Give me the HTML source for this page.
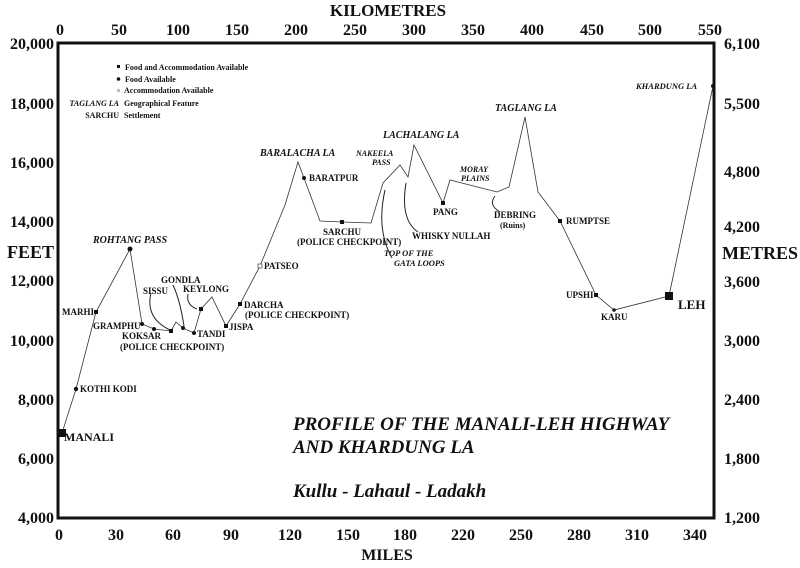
<!DOCTYPE html>
<html><head><meta charset="utf-8"><style>
html,body{margin:0;padding:0;background:#fff;}
svg{display:block;}
text{font-family:"Liberation Serif",serif;font-weight:bold;fill:#111;}
.t{font-size:16px;}
.s{font-size:9px;}
.i{font-style:italic;font-size:10px;}
</style></head><body>
<svg width="800" height="568" viewBox="0 0 800 568" xmlns="http://www.w3.org/2000/svg">
<rect width="800" height="568" fill="#fff"/>
<!-- frame -->
<path d="M58,43 L714,43 L714,518 L58,518 Z" fill="none" stroke="#111" stroke-width="3"/>
<!-- top axis -->
<text x="388" y="16" class="t" text-anchor="middle" style="font-size:17px">KILOMETRES</text>
<g class="t" text-anchor="middle">
<text x="60" y="35">0</text><text x="119" y="35">50</text><text x="178" y="35">100</text><text x="237" y="35">150</text><text x="296" y="35">200</text><text x="355" y="35">250</text><text x="414" y="35">300</text><text x="473" y="35">350</text><text x="532" y="35">400</text><text x="592" y="35">450</text><text x="650" y="35">500</text><text x="710" y="35">550</text>
</g>
<!-- left axis -->
<g class="t" text-anchor="end">
<text x="54" y="49">20,000</text><text x="54" y="109">18,000</text><text x="54" y="168">16,000</text><text x="54" y="227">14,000</text><text x="54" y="286">12,000</text><text x="54" y="346">10,000</text><text x="54" y="405">8,000</text><text x="54" y="464">6,000</text><text x="54" y="523">4,000</text>
<text x="54" y="258" style="font-size:18px">FEET</text>
</g>
<!-- right axis -->
<g class="t">
<text x="724" y="49">6,100</text><text x="724" y="109">5,500</text><text x="724" y="177">4,800</text><text x="724" y="232">4,200</text><text x="724" y="287">3,600</text><text x="724" y="346">3,000</text><text x="724" y="405">2,400</text><text x="724" y="464">1,800</text><text x="724" y="523">1,200</text>
<text x="722" y="259" style="font-size:18px">METRES</text>
</g>
<!-- bottom axis -->
<g class="t" text-anchor="middle">
<text x="59" y="540">0</text><text x="116" y="540">30</text><text x="173" y="540">60</text><text x="231" y="540">90</text><text x="290" y="540">120</text><text x="348" y="540">150</text><text x="405" y="540">180</text><text x="463" y="540">220</text><text x="521" y="540">250</text><text x="579" y="540">280</text><text x="637" y="540">310</text><text x="695" y="540">340</text>
<text x="387" y="560">MILES</text>
</g>
<!-- profile -->
<polyline fill="none" stroke="#333" stroke-width="0.8" points="62,433 76,389 96,312 130,249 142,324 154,329 171,331 176,322 183,328 194,333 201,309 212,297 226,326 240,304 260,266 285,205 298,162 304,178 320,221 342,222 371,223 383,183 400,165 408,177 414,145 443,203 450,180 497,192 509,187 525,117 538,192 560,221 596,295 614,310 669,296 713,86"/>
<!-- markers -->
<g fill="#111">
<rect x="59" y="429" width="7" height="8"/>
<circle cx="76" cy="389" r="2.2"/><rect x="94" y="310" width="4" height="4"/>
<circle cx="130" cy="249" r="2.5"/><circle cx="142" cy="324" r="2"/><circle cx="154" cy="329" r="2"/><rect x="169" y="329" width="4" height="4"/><circle cx="183" cy="328" r="2"/><circle cx="194" cy="333" r="2"/><rect x="199" y="307" width="4" height="4"/><rect x="224" y="324" width="4" height="4"/><rect x="238" y="302" width="4" height="4"/>
<circle cx="304" cy="178" r="2"/><rect x="340" y="220" width="4" height="4"/><rect x="441" y="201" width="4" height="4"/><rect x="558" y="219" width="4" height="4"/><rect x="594" y="293" width="4" height="4"/><circle cx="614" cy="310" r="1.8"/><rect x="665" y="292" width="8" height="8"/><circle cx="713" cy="86" r="2"/>
</g>
<rect x="258" y="264" width="4" height="4" fill="#fff" stroke="#555" stroke-width="0.8"/>
<!-- arrows -->
<g fill="none" stroke="#222" stroke-width="1">
<path d="M151,293 Q145,318 170,330"/>
<path d="M173,285 Q180,300 184,326"/>
<path d="M188,294 Q186,305 197,309"/>
<path d="M406,183 Q400,220 418,232"/>
<path d="M385,190 Q376,230 392,258"/>
<path d="M495,196 Q488,205 500,212"/>
</g>
<!-- labels -->
<g class="s">
<text x="64" y="441" style="font-size:12px">MANALI</text>
<text x="80" y="392">KOTHI KODI</text>
<text x="62" y="315">MARHI</text>
<text x="93" y="329">GRAMPHU</text>
<text x="122" y="339">KOKSAR</text>
<text x="120" y="350">(POLICE CHECKPOINT)</text>
<text x="143" y="294">SISSU</text>
<text x="161" y="283">GONDLA</text>
<text x="183" y="292">KEYLONG</text>
<text x="197" y="337">TANDI</text>
<text x="229" y="330">JISPA</text>
<text x="244" y="308">DARCHA</text>
<text x="245" y="318">(POLICE CHECKPOINT)</text>
<text x="264" y="269">PATSEO</text>
<text x="309" y="181">BARATPUR</text>
<text x="323" y="235">SARCHU</text>
<text x="297" y="245">(POLICE CHECKPOINT)</text>
<text x="412" y="239">WHISKY NULLAH</text>
<text x="433" y="215">PANG</text>
<text x="494" y="218">DEBRING</text>
<text x="500" y="228" style="font-size:8px">(Ruins)</text>
<text x="566" y="224">RUMPTSE</text>
<text x="566" y="298">UPSHI</text>
<text x="601" y="320">KARU</text>
<text x="678" y="309" style="font-size:13px">LEH</text>
</g>
<g class="i">
<text x="93" y="243">ROHTANG PASS</text>
<text x="260" y="156">BARALACHA LA</text>
<text x="383" y="138">LACHALANG LA</text>
<text x="356" y="156" style="font-size:8px">NAKEELA</text>
<text x="372" y="165" style="font-size:8px">PASS</text>
<text x="384" y="256" style="font-size:8.5px">TOP OF THE</text>
<text x="394" y="266" style="font-size:8.5px">GATA LOOPS</text>
<text x="460" y="172" style="font-size:8px">MORAY</text>
<text x="461" y="181" style="font-size:8px">PLAINS</text>
<text x="495" y="111">TAGLANG LA</text>
<text x="636" y="89" style="font-size:8.5px">KHARDUNG LA</text>
</g>
<!-- legend -->
<g class="s" style="font-size:8px">
<rect x="117" y="65" width="3" height="3" fill="#111"/><text x="125" y="70">Food and Accommodation Available</text>
<circle cx="118.5" cy="79" r="1.8" fill="#111"/><text x="125" y="82">Food Available</text>
<rect x="117" y="89" width="3" height="3" fill="#bbb"/><text x="124" y="93">Accommodation Available</text>
<text x="119" y="106" text-anchor="end" style="font-style:italic">TAGLANG LA</text><text x="124" y="106">Geographical Feature</text>
<text x="119" y="118" text-anchor="end">SARCHU</text><text x="124" y="118">Settlement</text>
</g>
<!-- title -->
<g style="font-style:italic;font-size:19px">
<text x="293" y="430" style="font-family:'Liberation Serif',serif;font-weight:bold;font-style:italic;font-size:19px">PROFILE OF THE MANALI-LEH HIGHWAY</text>
<text x="293" y="453" style="font-family:'Liberation Serif',serif;font-weight:bold;font-style:italic;font-size:19px">AND KHARDUNG LA</text>
<text x="293" y="497" style="font-family:'Liberation Serif',serif;font-weight:bold;font-style:italic;font-size:19px">Kullu - Lahaul - Ladakh</text>
</g>
</svg>
</body></html>
